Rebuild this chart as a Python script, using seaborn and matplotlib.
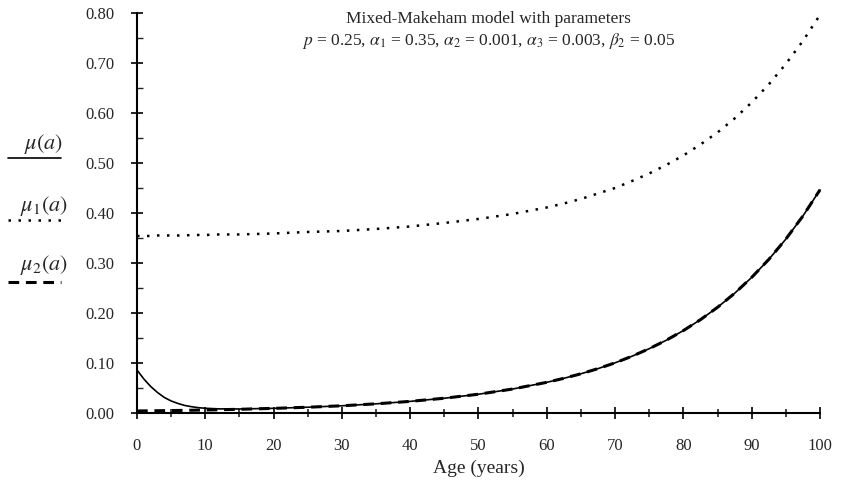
import numpy as np
import pandas as pd
import matplotlib
matplotlib.use("Agg")
import matplotlib.pyplot as plt
import seaborn as sns
from matplotlib.lines import Line2D
from matplotlib.ticker import MultipleLocator, FormatStrFormatter

# values (age in years, force of mortality)
ages = [0, 1, 2, 3, 4, 5, 6, 7, 8, 9, 10, 12, 15, 20, 25, 30, 35, 40, 45, 50,
        55, 60, 62.5, 65, 67.5, 70, 72.5, 75, 77.5, 80, 82.5, 85, 87.5, 90,
        92.5, 95, 97.5, 100]
mu_total = [0.086, 0.068, 0.053, 0.041, 0.031, 0.024, 0.019, 0.015, 0.0125, 0.0106,
            0.0094, 0.0082, 0.0080, 0.0093, 0.0115, 0.0144, 0.0183, 0.0232, 0.0295, 0.0375,
            0.0479, 0.0613, 0.0693, 0.0784, 0.0887, 0.1003, 0.1136, 0.1286, 0.1455, 0.1648,
            0.1866, 0.2113, 0.2393, 0.2711, 0.3070, 0.3477, 0.3939, 0.4462]
mu_1 = [0.354, 0.354, 0.354, 0.355, 0.355, 0.355, 0.355, 0.355, 0.356, 0.356,
        0.356, 0.357, 0.357, 0.359, 0.362, 0.364, 0.368, 0.373, 0.380, 0.388,
        0.398, 0.411, 0.419, 0.428, 0.439, 0.450, 0.464, 0.479, 0.496, 0.515,
        0.537, 0.561, 0.589, 0.621, 0.657, 0.698, 0.744, 0.796]
mu_2 = [0.0040, 0.0042, 0.0043, 0.0045, 0.0047, 0.0049, 0.0050, 0.0053, 0.0055, 0.0057,
        0.0059, 0.0065, 0.0074, 0.0092, 0.0115, 0.0144, 0.0183, 0.0232, 0.0295, 0.0375,
        0.0479, 0.0613, 0.0693, 0.0784, 0.0887, 0.1003, 0.1136, 0.1286, 0.1455, 0.1648,
        0.1866, 0.2113, 0.2393, 0.2711, 0.3070, 0.3477, 0.3939, 0.4462]

title_1 = "Mixed-Makeham model with parameters"
title_2 = (r"$p$ = 0.25, $\alpha_1$ = 0.35, $\alpha_2$ = 0.001, "
           r"$\alpha_3$ = 0.003, $\beta_2$ = 0.05")

df = pd.DataFrame({"age": ages, "mu": mu_total, "mu1": mu_1, "mu2": mu_2})

sns.set_style("ticks")
plt.rcParams["font.family"] = ["Liberation Serif", "DejaVu Serif"]
plt.rcParams["mathtext.fontset"] = "stix"

fig = plt.figure(figsize=(8.41, 4.87), dpi=100)
ax = fig.add_axes([0.1629, 0.152, 0.8121, 0.8214])

dotted = (0, (1, 3))
dashed = (0, (3.5, 2.2))
sns.lineplot(data=df, x="age", y="mu", ax=ax, color="black", lw=1.2,
             clip_on=False)
sns.lineplot(data=df, x="age", y="mu2", ax=ax, color="black", lw=2.2,
             linestyle=dashed, clip_on=False, zorder=3)
sns.lineplot(data=df, x="age", y="mu1", ax=ax, color="black", lw=1.8,
             linestyle=dotted, clip_on=False)

ax.set_xlim(0, 100)
ax.set_ylim(0, 0.80)
ax.xaxis.set_major_locator(MultipleLocator(10))
ax.xaxis.set_minor_locator(MultipleLocator(5))
ax.yaxis.set_major_locator(MultipleLocator(0.10))
ax.yaxis.set_minor_locator(MultipleLocator(0.05))
ax.yaxis.set_major_formatter(FormatStrFormatter("%.2f"))

ax.tick_params(axis="both", which="major", direction="inout", length=8,
               width=1.2, color="black", labelsize=12)
ax.tick_params(axis="x", which="major", pad=14)
ax.tick_params(axis="y", which="major", pad=12)
ax.tick_params(axis="x", which="minor", direction="inout", length=6, width=1.2)
ax.tick_params(axis="y", which="minor", direction="in", length=4, width=1.0)

for side in ["top", "right"]:
    ax.spines[side].set_visible(False)
for side in ["left", "bottom"]:
    ax.spines[side].set_color("black")
    ax.spines[side].set_linewidth(1.5)

ax.set_xlabel("Age (years)", fontsize=14, labelpad=4)
ax.set_ylabel("")

ax.text(51.5, 0.788, title_1, ha="center", va="center", fontsize=12.5)
ax.text(51.5, 0.743, title_2, ha="center", va="center", fontsize=12.5)

# hand-drawn legend on the left, label above its line sample
legend_items = [
    (r"$\mu(a)$", "-", 1.2, 0.705, 0.676),
    (r"$\mu_1(a)$", dotted, 1.8, 0.578, 0.549),
    (r"$\mu_2(a)$", dashed, 2.2, 0.455, 0.421),
]
for label, ls, lw, ty, ly in legend_items:
    fig.text(0.052, ty, label, ha="center", va="center", fontsize=16)
    fig.add_artist(Line2D([0.009, 0.072], [ly, ly], transform=fig.transFigure,
                          color="black", lw=lw, linestyle=ls))

fig.savefig("out.png", dpi=100)
